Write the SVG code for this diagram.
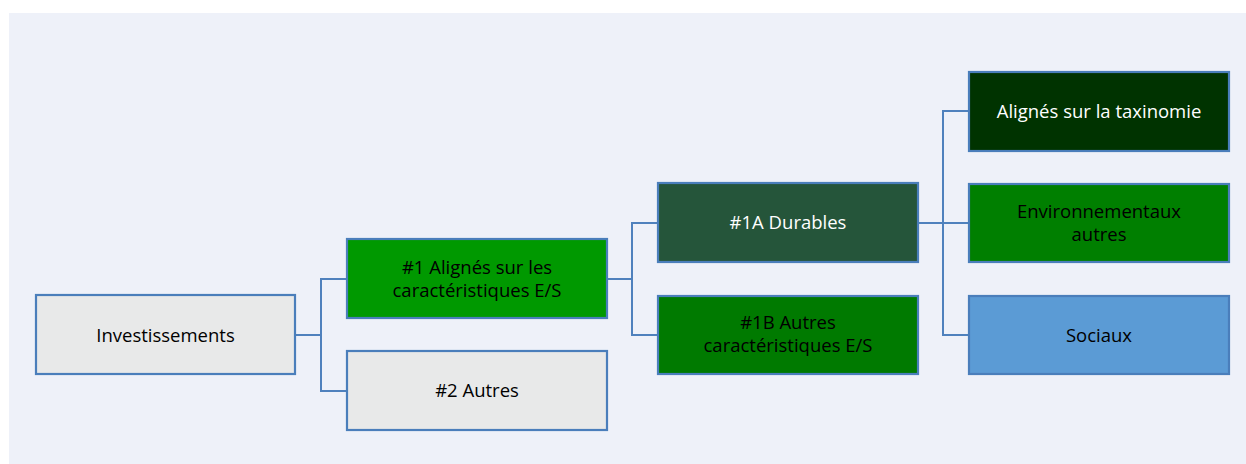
<svg xmlns="http://www.w3.org/2000/svg" width="1246" height="464" viewBox="0 0 1246 464">
<style>
.box{stroke:#4A7EBB;stroke-width:2.2}
.lbl{font-family:"Open Sans","Liberation Sans",sans-serif;font-size:18.5px;text-anchor:middle;fill:#000}
.w{fill:#fff}
.conn{fill:none;stroke:#4F81BD;stroke-width:2}
</style>
<rect x="0" y="0" width="1246" height="464" fill="#fff"/>
<rect x="9" y="13" width="1237" height="451" fill="#EEF1F9"/>
<g id="connectors">
<path class="conn" d="M295 335 H321 M347 279 H321 V391 H347"/>
<path class="conn" d="M607 279 H632 M658 223 H632 V335 H658"/>
<path class="conn" d="M918 223 H969 M969 111 H943 V335 H969"/>
</g>
<g id="investissements">
<rect class="box" x="36" y="295" width="259" height="79" fill="#E8E9E9"/>
<text class="lbl" x="165.5" y="342">Investissements</text>
</g>
<g id="aligned-es">
<rect class="box" x="347" y="239" width="260" height="79" fill="#009900"/>
<text class="lbl" x="477" y="274">#1 Alignés sur les</text>
<text class="lbl" x="477" y="297">caractéristiques E/S</text>
</g>
<g id="autres">
<rect class="box" x="347" y="351" width="260" height="79" fill="#E8E9E9"/>
<text class="lbl" x="477" y="397">#2 Autres</text>
</g>
<g id="durables">
<rect class="box" x="658" y="183" width="260" height="79" fill="#25553A"/>
<text class="lbl w" x="788" y="229">#1A Durables</text>
</g>
<g id="autres-es">
<rect class="box" x="658" y="296" width="260" height="78" fill="#007A00"/>
<text class="lbl" x="788" y="329">#1B Autres</text>
<text class="lbl" x="788" y="352">caractéristiques E/S</text>
</g>
<g id="taxinomie">
<rect class="box" x="969" y="72" width="260" height="79" fill="#003300"/>
<text class="lbl w" x="1099" y="118">Alignés sur la taxinomie</text>
</g>
<g id="environnementaux">
<rect class="box" x="969" y="184" width="260" height="78" fill="#007F00"/>
<text class="lbl" x="1099" y="218">Environnementaux</text>
<text class="lbl" x="1099" y="241">autres</text>
</g>
<g id="sociaux">
<rect class="box" x="969" y="296" width="260" height="78" fill="#5B9BD5"/>
<text class="lbl" x="1099" y="342">Sociaux</text>
</g>
</svg>
